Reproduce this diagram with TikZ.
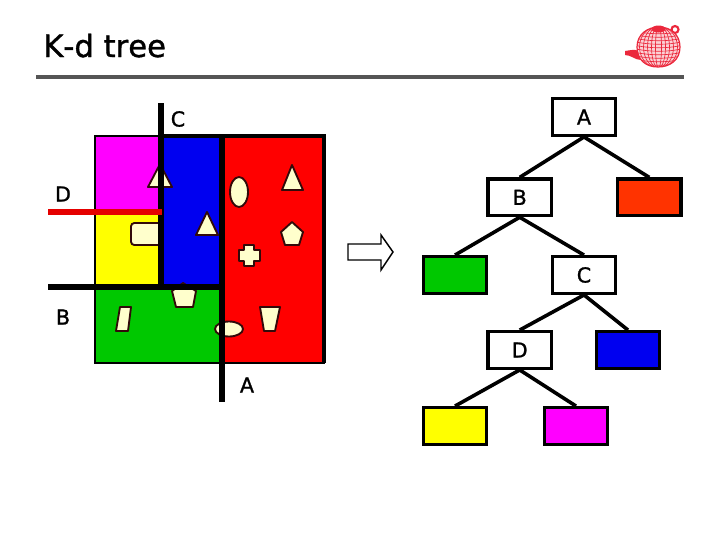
\documentclass[tikz,border=0pt]{standalone}
\usepackage{fontspec}
\setmainfont{DejaVu Sans}
\newfontfamily\heavyfont[FakeBold=1.2,Kerning=Off]{DejaVu Sans}
\usepackage{tikz}
\usetikzlibrary{arrows.meta,positioning,calc}
\definecolor{regMagenta}{RGB}{255,0,255}
\definecolor{regYellow}{RGB}{255,255,0}
\definecolor{regBlue}{RGB}{0,0,240}
\definecolor{regGreen}{RGB}{0,200,0}
\definecolor{regRed}{RGB}{255,0,0}
\definecolor{leafRed}{RGB}{255,51,0}
\definecolor{objFill}{RGB}{255,255,204}
\definecolor{objEdge}{RGB}{50,10,10}
\definecolor{ruleGray}{RGB}{85,85,85}
\definecolor{potRed}{RGB}{235,40,60}
\tikzset{
  splitln/.style={line width=3.9pt},
  objshape/.style={fill=objFill, draw=objEdge, line width=1.4pt, line join=round},
  treebox/.style={draw=black, line width=2.4pt, minimum width=47.6pt, minimum height=27.5pt, inner sep=0pt, font=\heavyfont\fontsize{15.5}{15.5}\selectfont},
  treebox white/.style={treebox, fill=white},
  treeln/.style={line width=2.7pt},
  cutlabel/.style={font=\heavyfont\fontsize{15.5}{15.5}\selectfont, inner sep=0pt},
  potln/.style={potRed, line width=0.5pt},
}
\begin{document}
\begin{tikzpicture}[x=0.75pt, y=-0.75pt]
    \useasboundingbox (0,0) rectangle (720,540);
    % Title and rule
    \node[anchor=base west, inner sep=0pt, font=\heavyfont\fontsize{23}{23}\selectfont] (title) at (43,57) {K-d tree};
    \fill[ruleGray] (36,75) rectangle (684,79);
    % Teapot
    \fill[potRed] (625,51) .. controls (632,50) and (634,49) .. (639,51) -- (641,60) .. controls (635,60) and (631,55) .. (625,55) -- cycle;
    \draw[potRed, line width=1.6pt] (675,29.5) circle (3.5);
    \fill[potRed!22] (637,47) .. controls (637,34) and (648,27) .. (659,27) .. controls (670,27) and (680,34) .. (680,47) .. controls (680,60) and (670,67) .. (658,67) .. controls (646,67) and (637,60) .. (637,47) -- cycle;
    \begin{scope}
      \clip (637,47) .. controls (637,34) and (648,27) .. (659,27) .. controls (670,27) and (680,34) .. (680,47) .. controls (680,60) and (670,67) .. (658,67) .. controls (646,67) and (637,60) .. (637,47) -- cycle;
      \foreach \merid in {3,7,...,23} \draw[potln] (658.5,47) ellipse [x radius=\merid, y radius=21];
      \foreach \lat in {28,31.5,...,67} \draw[potln] (636,\lat) .. controls (650,\lat+3) and (668,\lat+3) .. (681,\lat);
    \end{scope}
    \draw[potRed, line width=0.9pt] (637,47) .. controls (637,34) and (648,27) .. (659,27) .. controls (670,27) and (680,34) .. (680,47) .. controls (680,60) and (670,67) .. (658,67) .. controls (646,67) and (637,60) .. (637,47) -- cycle;
    \fill[potRed] (658.5,29) ellipse (7 and 3.5);
    % Regions
    \fill[regMagenta] (95,136) rectangle (161,212);
    \fill[regYellow] (95,212) rectangle (161,287);
    \fill[regBlue] (161,136) rectangle (222,287);
    \fill[regGreen] (95,287) rectangle (222,363);
    \fill[regRed] (222,136) rectangle (324,363);
    \draw[line width=0.9pt] (95,136) rectangle (324,363);
    \draw[splitln, line width=3pt] (161,136) -- (325.5,136);
    \draw[splitln, line width=3pt] (324,136) -- (324,363);
    % Objects
    \draw[objshape] (160,164) -- (172,187) -- (148,187) -- cycle;
    \draw[objshape] (239,192) ellipse (9 and 15);
    \draw[objshape] (292,165) -- (303,190) -- (282,190) -- cycle;
    \draw[objshape] (207,212) -- (218,235) -- (196,235) -- cycle;
    \draw[objshape] (292,222) -- (303,232) -- (299,245) -- (285,245) -- (281,232) -- cycle;
    \draw[objshape] (244,245) -- (254,245) -- (254,250) -- (260,250) -- (260,261) -- (254,261) -- (254,266) -- (244,266) -- (244,261) -- (239,261) -- (239,250) -- (244,250) -- cycle;
    \draw[objshape, rounded corners=2.5pt] (160,223) -- (131,223) -- (131,245) -- (160,245);
    \draw[objshape] (183,283) -- (196,291) -- (193,307) -- (176,307) -- (172,291) -- cycle;
    \draw[objshape] (120,307) -- (131,307) -- (128,331) -- (116,331) -- cycle;
    \draw[objshape] (229,329) ellipse (14 and 7.5);
    \draw[objshape] (260,307) -- (280,307) -- (275,331) -- (264,331) -- cycle;
    % Splitting lines
    \draw[splitln] (222,136) -- (222,402);
    \draw[splitln] (48,287) -- (222,287);
    \draw[splitln] (161,103) -- (161,287);
    \draw[splitln, regRed!90!black] (48,212) -- (162,212);
    % Labels of the splits
    \node[cutlabel] (cutA) at (247,385) {A};
    \node[cutlabel] (cutB) at (63,317) {B};
    \node[cutlabel] (cutC) at (178,119) {C};
    \node[cutlabel] (cutD) at (63,194) {D};
    % Arrow
    \draw[line width=1.1pt, fill=white] (348,244) -- (381,244) -- (381,235) -- (393,252) -- (381,270) -- (381,260) -- (348,260) -- cycle;
    % Tree
    \node[treebox white] (treeA) at (584,117) {A};
    \node[treebox white] (treeB) at (519.7,197.3) {B};
    \node[treebox, fill=leafRed] (leafRed) at (649.3,197.3) {};
    \node[treebox, fill=regGreen] (leafGreen) at (455,275) {};
    \node[treebox white] (treeC) at (584,275) {C};
    \node[treebox white] (treeD) at (519.7,350) {D};
    \node[treebox, fill=regBlue] (leafBlue) at (628,350) {};
    \node[treebox, fill=regYellow] (leafYellow) at (455,426) {};
    \node[treebox, fill=regMagenta] (leafMagenta) at (576,426) {};
    \draw[treeln] (treeA.south) -- (treeB.north);
    \draw[treeln] (treeA.south) -- (leafRed.north);
    \draw[treeln] (treeB.south) -- (leafGreen.north);
    \draw[treeln] (treeB.south) -- (treeC.north);
    \draw[treeln] (treeC.south) -- (treeD.north);
    \draw[treeln] (treeC.south) -- (leafBlue.north);
    \draw[treeln] (treeD.south) -- (leafYellow.north);
    \draw[treeln] (treeD.south) -- (leafMagenta.north);
\end{tikzpicture}
\end{document}
